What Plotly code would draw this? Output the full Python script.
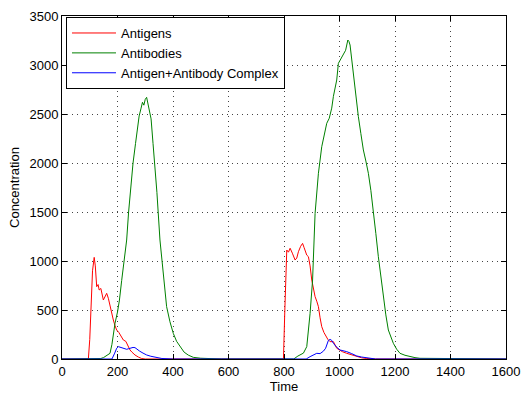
import plotly.graph_objects as go

# ---- data ----
antigen_t = [0, 95, 100, 105, 110, 116, 120, 125, 130, 134, 140, 149, 155, 161, 167, 173, 179, 185, 191, 197,
             205, 213, 221, 230, 239, 245, 252, 263, 275, 287, 300, 320, 780, 798, 803, 810, 816, 822, 830, 840,
             846, 852, 860, 867, 872, 876, 882, 888, 894, 900, 906, 912, 918, 924, 930, 936, 944, 951, 958, 966,
             972, 978, 990, 1000, 1010, 1026, 1040, 1062, 1080, 1098, 1130, 1600]
antigen_v = [0, 0, 200, 600, 900, 1037, 950, 738, 760, 704, 720, 602, 640, 670, 620, 534, 470, 398, 340, 296,
             270, 230, 194, 180, 126, 92, 70, 41, 20, 5, 0, 0, 0, 0, 500, 1112, 1090, 1130, 1080, 1010,
             1030, 1095, 1150, 1180, 1140, 1112, 1060, 1044, 950, 806, 700, 636, 590, 534, 420, 330, 270, 228, 200, 177,
             180, 177, 110, 90, 75, 58, 45, 24, 12, 5, 0, 0]

antibody_t = [0, 130, 140, 150, 160, 173, 180, 191, 200, 207, 215, 221, 227, 233, 240, 248, 256, 265, 272, 278,
              285, 290, 295, 300, 305, 310, 315, 321, 328, 335, 342, 353, 365, 377, 389, 401, 413, 425, 440, 455,
              473, 500, 530, 570, 575,
              835, 850, 870, 882, 894, 903, 912, 924, 936, 946, 954, 963, 972, 978, 984, 990, 996, 1005, 1014, 1022,
              1030, 1034, 1038, 1044, 1050, 1059, 1068, 1077, 1086, 1095, 1104, 1113, 1122, 1131, 1140, 1149, 1158,
              1167, 1176, 1185, 1194, 1206, 1218, 1236, 1254, 1272, 1290, 1320, 1360, 1400, 1430, 1435, 1600]
antibody_v = [0, 0, 5, 15, 30, 58, 150, 364, 480, 602, 800, 942, 1080, 1214, 1500, 1800, 2000, 2200, 2350, 2480,
              2560, 2620, 2590, 2650, 2670, 2600, 2550, 2450, 2200, 1980, 1700, 1214, 850, 534, 380, 262, 180, 126, 70, 40,
              17, 8, 5, 3, 0,
              0, 30, 60, 126, 466, 806, 1486, 1895, 2166, 2300, 2405, 2456, 2560, 2680, 2779, 2847, 3017, 3060, 3102, 3150,
              3255, 3240, 3204, 3050, 2881, 2680, 2473, 2300, 2133, 2020, 1895, 1720, 1520, 1280, 1044, 840, 636,
              450, 296, 220, 160, 100, 58, 38, 24, 14, 7, 6, 5, 5, 5, 0, 0]

complex_t = [0, 180, 190, 197, 203, 210, 218, 225, 233, 240, 248, 256, 263, 270, 280, 292, 305, 320, 335, 360, 400,
             880, 894, 906, 918, 930, 942, 950, 954, 960, 966, 972, 978, 990, 1002, 1014, 1026, 1044, 1062, 1080,
             1098, 1130, 1600]
complex_v = [0, 0, 60, 110, 126, 120, 110, 105, 99, 105, 112, 118, 116, 100, 80, 60, 41, 28, 17, 5, 0,
             0, 24, 40, 58, 55, 80, 110, 150, 190, 200, 190, 160, 120, 92, 85, 75, 55, 31, 20,
             10, 0, 0]

x_ticks = [0, 200, 400, 600, 800, 1000, 1200, 1400, 1600]
y_ticks = [0, 500, 1000, 1500, 2000, 2500, 3000, 3500]

FONT = "Liberation Sans, Arial, sans-serif"

fig = go.Figure()
fig.add_trace(go.Scatter(x=antigen_t, y=antigen_v, mode="lines", name="Antigens",
                         line=dict(color="#FF0000", width=1)))
fig.add_trace(go.Scatter(x=antibody_t, y=antibody_v, mode="lines", name="Antibodies",
                         line=dict(color="#008000", width=1)))
fig.add_trace(go.Scatter(x=complex_t, y=complex_v, mode="lines", name="Antigen+Antibody Complex",
                         line=dict(color="#0000FF", width=1)))

axis_common = dict(
    showline=True, linecolor="black", linewidth=1, mirror="ticks",
    ticks="inside", ticklen=5, tickcolor="black", tickwidth=1,
    showgrid=True, gridcolor="#444444", gridwidth=1, griddash="1px,4px",
    zeroline=False, automargin=False,
    tickfont=dict(family=FONT, size=13, color="black"),
)

fig.update_xaxes(range=[0, 1600], tickvals=x_ticks, ticktext=[str(v) for v in x_ticks],
                 title=dict(text="Time", font=dict(family=FONT, size=13, color="black"), standoff=0),
                 **axis_common)
fig.update_yaxes(range=[0, 3500], tickvals=y_ticks, ticktext=[str(v) for v in y_ticks],
                 title=dict(text="Concentration", font=dict(family=FONT, size=13, color="black"), standoff=6),
                 **axis_common)

fig.update_layout(
    width=523, height=394,
    margin=dict(l=62, r=17, t=16, b=35),
    paper_bgcolor="white", plot_bgcolor="white",
    font=dict(family=FONT, size=13, color="black"),
    showlegend=True,
    legend=dict(x=0.009, y=0.997, xanchor="left", yanchor="top",
                bgcolor="white", bordercolor="black", borderwidth=1,
                font=dict(family=FONT, size=13, color="black"),
                tracegroupgap=0, itemwidth=44),
)

fig.write_html("out.html")
